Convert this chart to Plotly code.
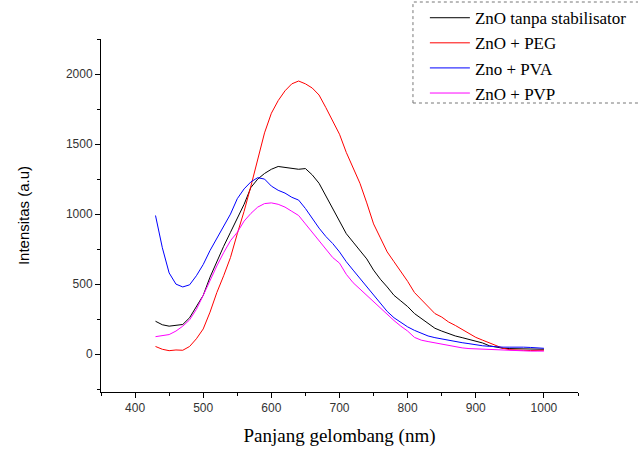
import plotly.graph_objects as go

wavelength = list(range(430, 1001, 10))

znO_tanpa = [235, 210, 200, 205, 212, 260, 340, 420, 550, 665, 770, 870, 975, 1070, 1190, 1250,
             1290, 1320, 1340, 1335, 1330, 1320, 1325, 1280, 1220, 1130, 1050, 960, 860, 800,
             740, 680, 600, 535, 480, 420, 380, 340, 290, 255, 215, 185, 165, 145, 130, 118,
             105, 92, 80, 60, 50, 42, 40, 38, 36, 36, 35, 35]

znO_peg = [55, 35, 25, 30, 28, 55, 110, 180, 300, 440, 560, 690, 860, 1020, 1200, 1400,
           1580, 1720, 1810, 1880, 1930, 1950, 1930, 1900, 1850, 1760, 1660, 1570, 1440, 1330,
           1220, 1080, 930, 830, 730, 660, 590, 520, 440, 390, 340, 290, 265, 230, 205, 175,
           150, 120, 100, 80, 60, 42, 32, 28, 28, 26, 28, 28]

zno_pva = [990, 760, 580, 500, 480, 495, 560, 640, 740, 830, 910, 1000, 1110, 1180, 1230, 1260,
           1250, 1200, 1170, 1150, 1120, 1100, 1040, 970, 900, 840, 790, 730, 660, 600,
           540, 480, 420, 360, 305, 260, 225, 195, 170, 148, 130, 118, 108, 98, 90, 82,
           75, 66, 60, 56, 52, 50, 50, 52, 50, 48, 45, 42]

znO_pvp = [125, 130, 140, 165, 200, 245, 320, 420, 530, 630, 725, 810, 870, 950, 1005, 1050,
           1075, 1080, 1070, 1050, 1020, 990, 930, 870, 810, 750, 690, 650, 570, 510,
           465, 420, 370, 325, 285, 240, 200, 165, 120, 100, 90, 80, 70, 60, 52, 45,
           40, 38, 34, 30, 28, 27, 25, 24, 24, 22, 22, 22]

series_names = ["ZnO tanpa stabilisator", "ZnO + PEG", "Zno + PVA", "ZnO + PVP"]
series_values = [znO_tanpa, znO_peg, zno_pva, znO_pvp]
series_colors = ["#000000", "#ff0000", "#0000ff", "#ff00ff"]

SERIF = '"Liberation Serif", "Times New Roman", serif'
SANS = '"Liberation Sans", Arial, sans-serif'

fig = go.Figure()
for name, vals, col in zip(series_names, series_values, series_colors):
    fig.add_trace(go.Scatter(x=wavelength, y=vals, mode="lines", name=name,
                             line=dict(color=col, width=1)))

axis_font = dict(family=SANS, size=12, color="#333333")

fig.update_layout(
    width=638, height=450,
    margin=dict(l=101, r=60, t=39, b=58, autoexpand=False),
    paper_bgcolor="white", plot_bgcolor="white",
    showlegend=True,
    legend=dict(x=0.679, y=1.11, xanchor="left", yanchor="top",
                bgcolor="rgba(0,0,0,0)", borderwidth=0,
                font=dict(family=SERIF, size=17, color="#000000"),
                tracegroupgap=0, itemwidth=40),
    xaxis=dict(range=[350, 1050], showgrid=False, zeroline=False,
               showline=True, linecolor="black", linewidth=1,
               ticks="outside", ticklen=5, tickcolor="black", dtick=100, tick0=400,
               tickfont=axis_font,
               minor=dict(ticks="outside", ticklen=3, dtick=50, tick0=350, tickcolor="black"),
               title=dict(text="Panjang gelombang (nm)",
                          font=dict(family=SERIF, size=19, color="#000000"),
                          standoff=14)),
    yaxis=dict(range=[-270, 2250], showgrid=False, zeroline=False,
               showline=True, linecolor="black", linewidth=1,
               ticks="outside", ticklen=5, tickcolor="black", dtick=500, tick0=0,
               tickfont=axis_font,
               minor=dict(ticks="outside", ticklen=3, dtick=250, tickcolor="black"),
               title=dict(text="Intensitas (a.u)",
                          font=dict(family=SANS, size=15, color="#000000"),
                          standoff=32)),
)

fig.add_shape(type="rect", xref="paper", yref="paper",
              x0=0.654, x1=1.2, y0=(392 - 103) / 353, y1=(392 - 2) / 353,
              line=dict(color="#777777", width=1, dash="dot"), fillcolor="rgba(0,0,0,0)")

fig.write_html("out.html", config={"displayModeBar": False},
               post_script="document.body.style.margin='0px';")
